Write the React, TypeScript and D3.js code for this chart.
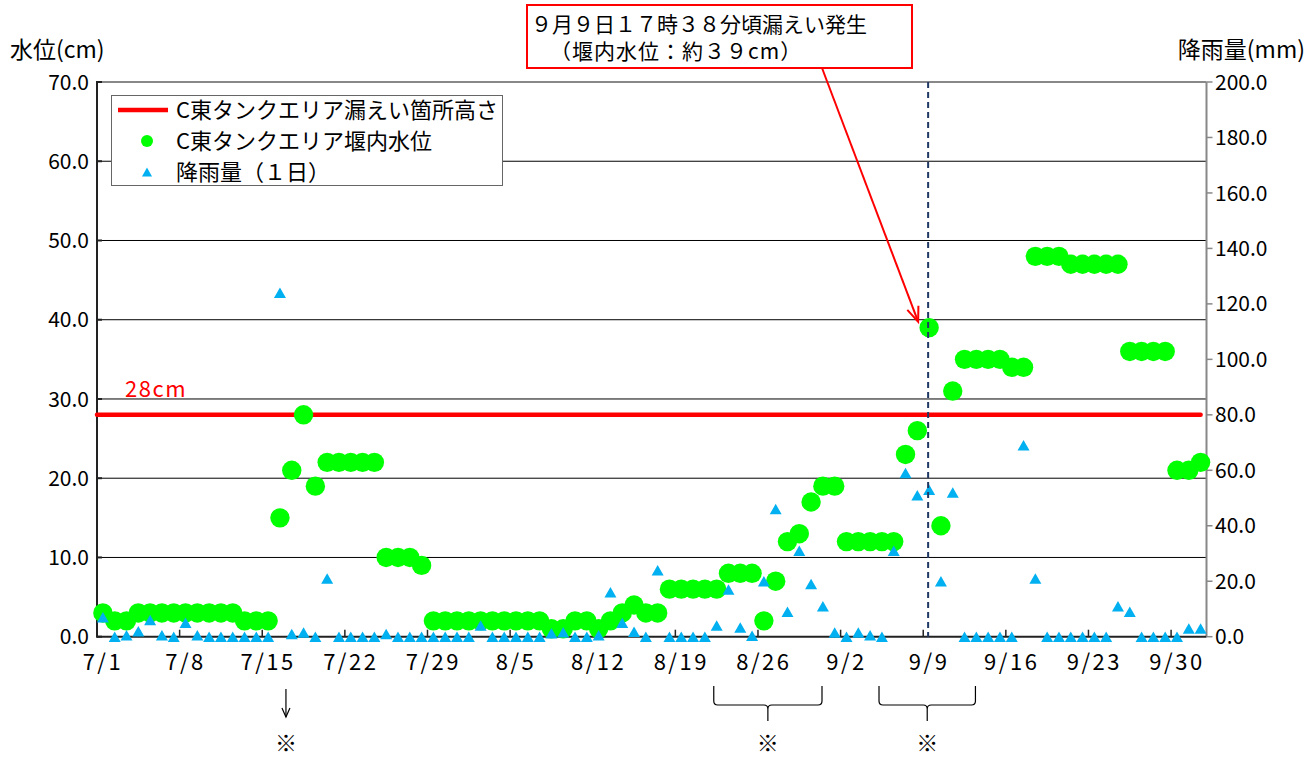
import React from "react";
import * as d3 from "d3";

// ---- categories: 7/1 .. 10/2 (daily) ----
const dates = d3.timeDay.range(new Date(2013, 6, 1), new Date(2013, 9, 3));
const fmt = d3.timeFormat("%-m/%-d");
const categories = dates.map((d) => fmt(d));

// ---- C東タンクエリア堰内水位 (cm), left axis ----
const waterLevel = [
  3, 2, 2, 3, 3, 3, 3, 3, 3, 3,
  3, 3, 2, 2, 2, 15, 21, 28, 19, 22,
  22, 22, 22, 22, 10, 10, 10, 9, 2, 2,
  2, 2, 2, 2, 2, 2, 2, 2, 1, 1,
  2, 2, 1, 2, 3, 4, 3, 3, 6, 6,
  6, 6, 6, 8, 8, 8, 2, 7, 12, 13,
  17, 19, 19, 12, 12, 12, 12, 12, 23, 26,
  39, 14, 31, 35, 35, 35, 35, 34, 34, 48,
  48, 48, 47, 47, 47, 47, 47, 36, 36, 36,
  36, 21, 21, 22,
];

// ---- 降雨量（１日） (mm), right axis ----
const rainfall = [
  7, 0, 0.5, 2, 6, 0.5, 0, 5, 0.5, 0,
  0, 0, 0, 0, 0, 124, 1, 1.5, 0, 21,
  0, 0, 0, 0, 1, 0, 0, 0, 0, 0,
  0, 0, 4, 0, 0, 0, 0, 0, 1.2, 1.6,
  0, 0, 0.5, 16, 5, 1.8, 0, 24, 0, 0,
  0, 0, 4, 17, 3.3, 0.3, 20, 46, 9, 31,
  19, 11, 1.5, 0, 1.5, 0.5, 0, 31, 59, 51,
  53, 20, 52, 0, 0, 0, 0, 0, 69, 21,
  0, 0, 0, 0, 0, 0, 11, 9, 0, 0,
  0, 0, 3, 3,
];

const leakHeight = 28;
const xTickLabels = ["7/1", "7/8", "7/15", "7/22", "7/29", "8/5", "8/12", "8/19", "8/26", "9/2", "9/9", "9/16", "9/23", "9/30"];
const leftTicks = [0, 10, 20, 30, 40, 50, 60, 70];
const rightTicks = [0, 20, 40, 60, 80, 100, 120, 140, 160, 180, 200];
const eventDate = "9/9";
const bracketRanges = [["8/22", "8/31"], ["9/5", "9/13"]];
const arrowDate = "7/16";

const FONT = "'Noto Sans CJK JP', 'Noto Sans', sans-serif";

export default function App() {
  const W = 1309, H = 758;
  const L = 97, R = 1206.5, T = 82, B = 636.7;

  const x = d3.scaleBand<string>().domain(categories).range([L, R]).padding(0);
  const bw = x.bandwidth();
  const cx = (c: string) => (x(c) as number) + bw / 2;
  const yL = d3.scaleLinear().domain([0, 70]).range([B, T]);
  const yR = d3.scaleLinear().domain([0, 200]).range([B, T]);

  const tri = (px: number, py: number, w = 12, h = 10.5) =>
    `M${px},${py - h / 2}L${px + w / 2},${py + h / 2}L${px - w / 2},${py + h / 2}Z`;

  const evX = cx(eventDate);
  // annotation arrow
  const ax0 = 822, ay0 = 68, ax1 = evX - 11, ay1 = yL(39) - 6;
  const ang = Math.atan2(ay1 - ay0, ax1 - ax0);
  const hl = 16, ha = 0.38;
  const barb1 = [ax1 - hl * Math.cos(ang - ha), ay1 - hl * Math.sin(ang - ha)];
  const barb2 = [ax1 - hl * Math.cos(ang + ha), ay1 - hl * Math.sin(ang + ha)];

  const fs = 21;
  const ax = cx(arrowDate) + 6;

  return (
    <svg width={W} height={H} style={{ position: "absolute", left: 0, top: 0, background: "#fff" }} fontFamily={FONT}>
      {/* gridlines */}
      {leftTicks.filter((t) => t > 0).map((t) => (
        <line key={"g" + t} x1={L} x2={R} y1={yL(t)} y2={yL(t)} stroke={t === 70 ? "#888" : "#000"} strokeWidth={t === 70 ? 2 : 1} />
      ))}
      {/* axes */}
      <line x1={R} x2={R} y1={T} y2={B} stroke="#888" strokeWidth={2} />
      <line x1={L} x2={L} y1={T - 1} y2={B + 1} stroke="#222" strokeWidth={2} />
      <line x1={L} x2={R} y1={B} y2={B} stroke="#222" strokeWidth={2} />
      {leftTicks.map((t) => (
        <line key={"lt" + t} x1={L} x2={L + 5} y1={yL(t)} y2={yL(t)} stroke="#222" strokeWidth={2} />
      ))}
      {rightTicks.map((t) => (
        <line key={"rt" + t} x1={R} x2={R + 6} y1={yR(t)} y2={yR(t)} stroke="#888" strokeWidth={1.5} />
      ))}
      {xTickLabels.slice(1).map((c) => (
        <line key={"xt" + c} x1={x(c) as number} x2={x(c) as number} y1={B} y2={B - 7} stroke="#222" strokeWidth={1.5} />
      ))}
      {/* tick labels */}
      {leftTicks.map((t) => (
        <text key={"ll" + t} x={89} y={yL(t)} dy="0.36em" textAnchor="end" fontSize={fs} fill="#000">{t.toFixed(1)}</text>
      ))}
      {rightTicks.map((t) => (
        <text key={"rl" + t} x={1215} y={yR(t)} dy="0.36em" textAnchor="start" fontSize={fs} fill="#000">{t.toFixed(1)}</text>
      ))}
      {xTickLabels.map((c) => (
        <text key={"xl" + c} x={cx(c)} y={670} textAnchor="middle" fontSize={22} letterSpacing={2.5} fill="#000">{c}</text>
      ))}
      {/* axis titles */}
      <text x={10} y={58} fontSize={23} fill="#000">水位(cm)</text>
      <text x={1305} y={58} textAnchor="end" fontSize={23} fill="#000">降雨量(mm)</text>

      {/* leak height line */}
      <line x1={L} x2={cx(categories[categories.length - 1])} y1={yL(leakHeight)} y2={yL(leakHeight)} stroke="#ff0000" strokeWidth={4.5} strokeLinecap="round" />
      <text x={125} y={397} fontSize={22} letterSpacing={1.5} fill="#ff0000">28cm</text>

      {/* water level */}
      {waterLevel.map((v, i) => (
        <circle key={"w" + i} cx={cx(categories[i])} cy={yL(v)} r={9.7} fill="#00ff00" />
      ))}
      {/* rainfall */}
      {rainfall.map((v, i) => (
        <path key={"r" + i} d={tri(cx(categories[i]), yR(v))} fill="#00b0f0" />
      ))}

      {/* event dashed line */}
      <line x1={evX - 1} x2={evX - 1} y1={T} y2={B} stroke="#1f3864" strokeWidth={2} strokeDasharray="6,4" />

      {/* legend */}
      <rect x={111.5} y={95.5} width={391} height={90} fill="#fff" stroke="#666" strokeWidth={1} />
      <line x1={118} x2={168} y1={110} y2={110} stroke="#ff0000" strokeWidth={4.5} />
      <text x={176} y={118} fontSize={22} fill="#000">C東タンクエリア漏えい箇所高さ</text>
      <circle cx={147} cy={141} r={6} fill="#00ff00" />
      <text x={176} y={149} fontSize={22} fill="#000">C東タンクエリア堰内水位</text>
      <path d={tri(147, 172, 10, 9)} fill="#00b0f0" />
      <text x={176} y={180} fontSize={22} fill="#000">降雨量（１日）</text>

      {/* annotation */}
      <rect x={527} y={5} width={385} height={63} fill="#fff" stroke="#ff0000" strokeWidth={2} />
      <text x={531} y={32} fontSize={fs} fill="#000">９月９日１７時３８分頃漏えい発生</text>
      <text x={550} y={59} fontSize={fs} letterSpacing={1} fill="#000">（堰内水位：約３９cm）</text>
      <line x1={ax0} y1={ay0} x2={ax1} y2={ay1} stroke="#ff0000" strokeWidth={2} />
      <polyline points={`${barb1[0]},${barb1[1]} ${ax1},${ay1} ${barb2[0]},${barb2[1]}`} fill="none" stroke="#ff0000" strokeWidth={2} />

      {/* bottom notes */}
      <line x1={ax} x2={ax} y1={689} y2={717} stroke="#000" strokeWidth={1.2} />
      <polyline points={`${ax - 4},${708} ${ax},${717} ${ax + 4},${708}`} fill="none" stroke="#000" strokeWidth={1.2} />
      <text x={ax} y={741} dominantBaseline="central" textAnchor="middle" fontSize={22} fill="#000">※</text>
      {bracketRanges.map(([a, b], k) => {
        const x0 = (x(a) as number) + 3, x1 = (x(b) as number) + 5;
        const m = (x0 + x1) / 2;
        const top = 686, mid = 705, bot = 721;
        const d = `M${x0},${top} L${x0},${mid - 4} Q${x0},${mid} ${x0 + 4},${mid} L${m - 4},${mid} Q${m},${mid} ${m},${mid + 4} L${m},${bot} M${m},${mid + 4} Q${m},${mid} ${m + 4},${mid} L${x1 - 4},${mid} Q${x1},${mid} ${x1},${mid - 4} L${x1},${top}`;
        return (
          <g key={"br" + k}>
            <path d={d} fill="none" stroke="#000" strokeWidth={1.2} />
            <text x={m} y={741} dominantBaseline="central" textAnchor="middle" fontSize={22} fill="#000">※</text>
          </g>
        );
      })}
    </svg>
  );
}
